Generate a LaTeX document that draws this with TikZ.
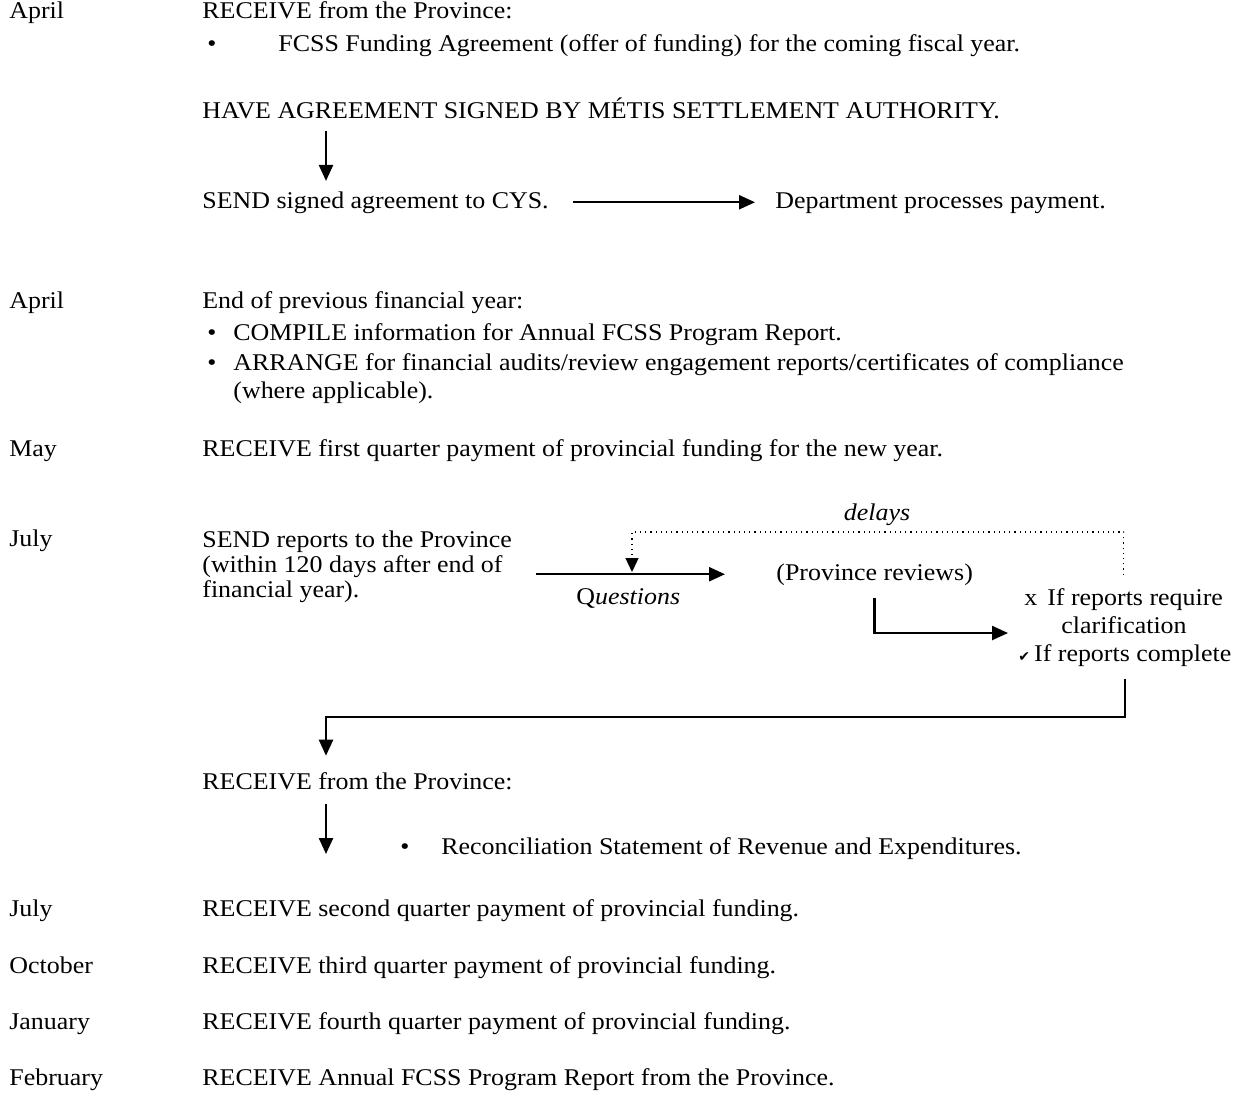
\documentclass[tikz,border=0pt]{standalone}
\usepackage{fontspec}
\setmainfont{Liberation Serif}[FakeStretch=1.08]
\newfontfamily\tickfont{DejaVu Sans}
\usetikzlibrary{arrows.meta, positioning}

\tikzset{
  txt/.style={anchor=base west, inner sep=0pt, font=\fontsize{12}{14}\selectfont},
  arr/.style={line width=1.2pt, -{Triangle[length=8pt,width=7pt]}},
  dotarr/.style={line width=0.6pt, dotted, -{Triangle[length=7pt,width=6.5pt]}},
}

\begin{document}
\begin{tikzpicture}[x=0.5pt, y=-0.5pt]
\useasboundingbox (0,0) rectangle (1251,1104);
% months
\node[txt] (apr1) at (9,18) {April};
\node[txt] (apr2) at (9,308) {April};
\node[txt] (may) at (9,456) {May};
\node[txt] (jul1) at (9,546) {July};
\node[txt] (jul2) at (9,916) {July};
\node[txt] (oct) at (9,973) {October};
\node[txt] (jan) at (9,1029) {January};
\node[txt] (feb) at (9,1085) {February};
% funding agreement
\node[txt] (recv1) at (202,18) {RECEIVE from the Province:};
\node[txt] (bul1) at (207,51) {\textbullet};
\node[txt] (offer) at (278,51) {FCSS Funding Agreement (offer of funding) for the coming fiscal year.};
\node[txt] (have) at (202,118) {HAVE AGREEMENT SIGNED BY MÉTIS SETTLEMENT AUTHORITY.};
\node[txt] (send) at (202,208) {SEND signed agreement to CYS.};
\node[txt] (dept) at (775,208) {Department processes payment.};
\coordinate (spine) at (326,0);
\draw[arr, shorten <=6pt, shorten >=5pt] (have.south -| spine) -- (send.north -| spine);
\draw[arr, shorten <=12pt, shorten >=10pt] (send.east) -- (send.east -| dept.west);
% year end
\node[txt] (endyr) at (202,308) {End of previous financial year:};
\node[txt] (bul2) at (207,340) {\textbullet};
\node[txt] (compile) at (233,340) {COMPILE information for Annual FCSS Program Report.};
\node[txt] (bul3) at (207,370) {\textbullet};
\node[txt] (arrange) at (233,370) {ARRANGE for financial audits/review engagement reports/certificates of compliance};
\node[txt] (arrange2) at (233,398) {(where applicable).};
\node[txt] (q1) at (202,456) {RECEIVE first quarter payment of provincial funding for the new year.};
% reports
\node[txt] (rep1) at (202,547) {SEND reports to the Province};
\node[txt] (rep2) at (202,572) {(within 120 days after end of};
\node[txt] (rep3) at (202,597) {financial year).};
\node[txt] (reviews) at (776,580) {(Province reviews)};
\node[txt] (quest) at (576,604) {Q\textit{uestions}};
\coordinate (dloop) at (877,532);
\node[above=3pt of dloop, inner sep=0pt, font=\fontsize{12}{14}\selectfont] (delays) {\textit{delays}};
\node[txt] (clar1) at (1024,605) {x\hspace{5pt}If reports require};
\node[txt, anchor=base] (clar2) at (1124,633) {clarification};
\node[txt] (comp) at (1018,661) {{\tickfont\fontsize{7}{7}\selectfont ✔}\hspace{2pt}If reports complete};
\coordinate (qtip) at (632,572);
\draw[arr, shorten <=16.5pt, shorten >=25.5pt] (rep2.east |- reviews.west) -- (reviews.west);
\draw[dotarr] ([yshift=6.5pt]clar1.north) |- (dloop) -| (qtip);
\draw[arr, shorten <=6pt, shorten >=8pt] (reviews.south) |- (clar2.base -| clar1.west);
% reconciliation
\node[txt] (recv2) at (202,789) {RECEIVE from the Province:};
\node[txt] (bul4) at (400,854) {\textbullet};
\node[txt] (recon) at (441,854) {Reconciliation Statement of Revenue and Expenditures.};
\coordinate (bend) at (326,717);
\draw[arr, shorten <=6pt, shorten >=8pt] (comp.south) |- (bend) -- (recv2.north -| bend);
\draw[arr, shorten <=7pt] (recv2.south -| bend) -- (recon.base -| bend);
% payments
\node[txt] (q2) at (202,916) {RECEIVE second quarter payment of provincial funding.};
\node[txt] (q3) at (202,973) {RECEIVE third quarter payment of provincial funding.};
\node[txt] (q4) at (202,1029) {RECEIVE fourth quarter payment of provincial funding.};
\node[txt] (annual) at (202,1085) {RECEIVE Annual FCSS Program Report from the Province.};
\end{tikzpicture}
\end{document}
